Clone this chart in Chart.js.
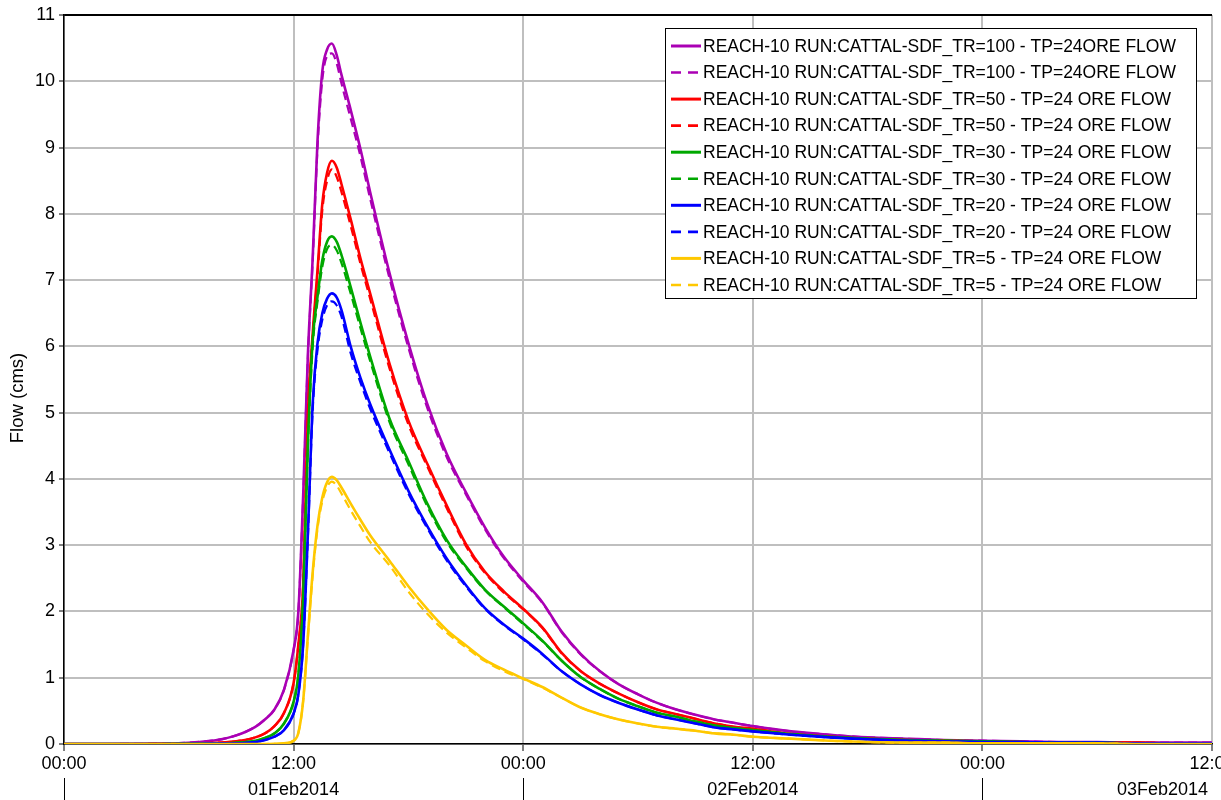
<!DOCTYPE html>
<html>
<head>
<meta charset="utf-8">
<title>REACH-10 Flow</title>
<script src="https://cdn.jsdelivr.net/npm/chart.js@4/dist/chart.umd.min.js"></script>
<style>
  html, body { margin: 0; padding: 0; background: #ffffff; }
  #wrap { width: 1221px; height: 800px; }
</style>
</head>
<body>
<div id="wrap"><canvas id="flowChart" width="1221" height="800"></canvas></div>
<script>
// Hours since 00:00 on 01Feb2014
const hours = [0, 2, 4, 5, 6, 7, 8, 9, 10, 10.5, 11, 11.5,
  12, 12.25, 12.5, 12.75, 13, 13.25, 13.5, 13.75, 14, 14.25, 14.5,
  15, 15.5, 16, 17, 18, 19, 20, 21, 22, 23, 24,
  25, 26, 27, 28, 29, 30, 31, 32, 33, 34, 35, 36,
  38, 40, 42, 44, 46, 48, 50, 52, 54, 56, 58, 60];

// Flow (cms), first run of each return period
const tr100Solid = [0, 0, 0.002, 0.005, 0.012, 0.03, 0.06, 0.13, 0.26, 0.37, 0.52, 0.82,
  1.42, 2.0, 3.75, 5.9, 7.35, 9.1, 10.15, 10.48, 10.57, 10.4, 10.1,
  9.55, 8.97, 8.33, 7.12, 6.05, 5.12, 4.38, 3.8, 3.27, 2.82, 2.47,
  2.14, 1.70, 1.36, 1.10, 0.90, 0.75, 0.62, 0.52, 0.44, 0.37, 0.32, 0.27,
  0.19, 0.14, 0.10, 0.08, 0.06, 0.05, 0.04, 0.03, 0.03, 0.02, 0.02, 0.02];
const tr50Solid = [0, 0, 0, 0.002, 0.005, 0.01, 0.02, 0.04, 0.10, 0.16, 0.27, 0.47,
  0.92, 1.5, 2.4, 5.0, 6.2, 7.15, 8.15, 8.62, 8.8, 8.7, 8.45,
  7.9, 7.32, 6.8, 5.75, 4.88, 4.22, 3.6, 3.02, 2.6, 2.3, 2.04,
  1.76, 1.38, 1.10, 0.91, 0.76, 0.63, 0.52, 0.45, 0.38, 0.31, 0.26, 0.23,
  0.15, 0.11, 0.08, 0.06, 0.05, 0.04, 0.03, 0.02, 0.02, 0.02, 0.01, 0.01];
const tr30Solid = [0, 0, 0, 0, 0.002, 0.005, 0.01, 0.02, 0.05, 0.09, 0.16, 0.31,
  0.64, 1.05, 2.2, 4.55, 6.1, 6.75, 7.3, 7.58, 7.66, 7.58, 7.38,
  6.88, 6.35, 5.85, 4.92, 4.27, 3.62, 3.08, 2.68, 2.33, 2.07, 1.82,
  1.56, 1.26, 1.01, 0.83, 0.68, 0.57, 0.47, 0.41, 0.34, 0.28, 0.24, 0.21,
  0.15, 0.11, 0.08, 0.06, 0.05, 0.04, 0.03, 0.02, 0.02, 0.01, 0.01, 0.01];
const tr20Solid = [0, 0, 0, 0, 0.001, 0.003, 0.005, 0.01, 0.03, 0.06, 0.11, 0.21,
  0.46, 0.75, 1.5, 3.2, 5.15, 6.05, 6.5, 6.72, 6.8, 6.74, 6.55,
  5.98, 5.52, 5.13, 4.45, 3.82, 3.28, 2.8, 2.4, 2.05, 1.8, 1.59,
  1.36, 1.10, 0.90, 0.74, 0.62, 0.52, 0.43, 0.37, 0.31, 0.25, 0.22, 0.19,
  0.14, 0.10, 0.07, 0.05, 0.04, 0.03, 0.03, 0.02, 0.02, 0.01, 0.01, 0.01];
const tr5Solid = [0, 0, 0, 0, 0, 0, 0, 0, 0, 0, 0.003, 0.01,
  0.05, 0.17, 0.65, 1.65, 2.6, 3.3, 3.72, 3.95, 4.03, 3.98, 3.87,
  3.62, 3.38, 3.15, 2.77, 2.38, 2.03, 1.72, 1.49, 1.27, 1.12, 0.99,
  0.86, 0.70, 0.55, 0.45, 0.37, 0.31, 0.26, 0.23, 0.20, 0.16, 0.14, 0.11,
  0.08, 0.05, 0.03, 0.02, 0.02, 0.01, 0.01, 0.01, 0.01, 0, 0, 0];

// Flow (cms), second run of each return period
const tr100Dashed = [0, 0, 0.002, 0.005, 0.012, 0.03, 0.06, 0.13, 0.26, 0.37, 0.52, 0.82,
  1.42, 2.0, 3.72, 5.85, 7.3, 9.0, 10.02, 10.38, 10.42, 10.27, 9.97,
  9.42, 8.86, 8.23, 7.04, 5.98, 5.06, 4.33, 3.77, 3.24, 2.8, 2.45,
  2.13, 1.69, 1.35, 1.10, 0.90, 0.75, 0.62, 0.52, 0.44, 0.37, 0.32, 0.27,
  0.19, 0.14, 0.10, 0.08, 0.06, 0.05, 0.04, 0.03, 0.03, 0.02, 0.02, 0.02];
const tr50Dashed = [0, 0, 0, 0.002, 0.005, 0.01, 0.02, 0.04, 0.10, 0.16, 0.27, 0.47,
  0.92, 1.5, 2.4, 4.95, 6.15, 7.08, 8.05, 8.5, 8.67, 8.56, 8.33,
  7.8, 7.24, 6.72, 5.68, 4.82, 4.18, 3.56, 2.99, 2.58, 2.28, 2.03,
  1.75, 1.37, 1.10, 0.91, 0.76, 0.63, 0.52, 0.45, 0.38, 0.31, 0.26, 0.23,
  0.15, 0.11, 0.08, 0.06, 0.05, 0.04, 0.03, 0.02, 0.02, 0.02, 0.01, 0.01];
const tr30Dashed = [0, 0, 0, 0, 0.002, 0.005, 0.01, 0.02, 0.05, 0.09, 0.16, 0.31,
  0.64, 1.05, 2.2, 4.5, 6.0, 6.68, 7.2, 7.47, 7.53, 7.45, 7.26,
  6.78, 6.27, 5.78, 4.87, 4.22, 3.58, 3.05, 2.66, 2.32, 2.06, 1.81,
  1.55, 1.26, 1.01, 0.83, 0.68, 0.57, 0.47, 0.41, 0.34, 0.28, 0.24, 0.21,
  0.15, 0.11, 0.08, 0.06, 0.05, 0.04, 0.03, 0.02, 0.02, 0.01, 0.01, 0.01];
const tr20Dashed = [0, 0, 0, 0, 0.001, 0.003, 0.005, 0.01, 0.03, 0.06, 0.11, 0.21,
  0.46, 0.75, 1.5, 3.15, 5.05, 5.95, 6.4, 6.62, 6.68, 6.62, 6.45,
  5.88, 5.45, 5.06, 4.4, 3.78, 3.25, 2.77, 2.38, 2.04, 1.79, 1.58,
  1.35, 1.10, 0.90, 0.74, 0.62, 0.52, 0.43, 0.37, 0.31, 0.25, 0.22, 0.19,
  0.14, 0.10, 0.07, 0.05, 0.04, 0.03, 0.03, 0.02, 0.02, 0.01, 0.01, 0.01];
const tr5Dashed = [0, 0, 0, 0, 0, 0, 0, 0, 0, 0, 0.003, 0.01,
  0.05, 0.17, 0.65, 1.62, 2.55, 3.25, 3.66, 3.88, 3.96, 3.9, 3.78,
  3.52, 3.28, 3.05, 2.7, 2.3, 1.96, 1.68, 1.46, 1.25, 1.1, 0.98,
  0.85, 0.70, 0.55, 0.45, 0.37, 0.31, 0.26, 0.23, 0.20, 0.16, 0.14, 0.11,
  0.08, 0.05, 0.03, 0.02, 0.02, 0.01, 0.01, 0.01, 0.01, 0, 0, 0];

const seriesNames = [
  'REACH-10 RUN:CATTAL-SDF_TR=100 - TP=24ORE FLOW',
  'REACH-10 RUN:CATTAL-SDF_TR=100 - TP=24ORE FLOW',
  'REACH-10 RUN:CATTAL-SDF_TR=50 - TP=24 ORE FLOW',
  'REACH-10 RUN:CATTAL-SDF_TR=50 - TP=24 ORE FLOW',
  'REACH-10 RUN:CATTAL-SDF_TR=30 - TP=24 ORE FLOW',
  'REACH-10 RUN:CATTAL-SDF_TR=30 - TP=24 ORE FLOW',
  'REACH-10 RUN:CATTAL-SDF_TR=20 - TP=24 ORE FLOW',
  'REACH-10 RUN:CATTAL-SDF_TR=20 - TP=24 ORE FLOW',
  'REACH-10 RUN:CATTAL-SDF_TR=5 - TP=24 ORE FLOW',
  'REACH-10 RUN:CATTAL-SDF_TR=5 - TP=24 ORE FLOW'
];
const seriesValues = [tr100Solid, tr100Dashed, tr50Solid, tr50Dashed, tr30Solid, tr30Dashed,
  tr20Solid, tr20Dashed, tr5Solid, tr5Dashed];

// Axis text
const timeTickLabels = ['00:00', '12:00', '00:00', '12:00', '00:00', '12:00'];
const dateLabels = ['01Feb2014', '02Feb2014', '03Feb2014'];
const dateCenters = [12, 36, 60];
const dayBoundaries = [0, 24, 48];
const yAxisTitle = 'Flow (cms)';

const FONT = "'Liberation Sans', Arial, sans-serif";
const palette = ['#AA00B4', '#AA00B4', '#FF0000', '#FF0000', '#00A800', '#00A800',
  '#0000FF', '#0000FF', '#FFC800', '#FFC800'];

const datasets = seriesValues.map((vals, i) => ({
  label: seriesNames[i],
  data: hours.map((h, k) => ({ x: h, y: vals[k] })),
  borderColor: palette[i],
  backgroundColor: palette[i],
  borderWidth: i % 2 === 0 ? 2.6 : 2.2,
  borderDash: i % 2 === 0 ? [] : [9, 5],
  pointRadius: 0,
  fill: false,
  cubicInterpolationMode: 'monotone',
  order: seriesValues.length - i
}));

// Boxed key in the upper right of the plot
const keyPlugin = {
  id: 'seriesKey',
  afterDatasetsDraw(chart) {
    const ctx = chart.ctx;
    const left = 665, top = 28, width = 531, height = 270, rowGap = 26.55;
    ctx.save();
    ctx.fillStyle = '#ffffff';
    ctx.fillRect(left, top, width, height);
    ctx.strokeStyle = '#000000';
    ctx.lineWidth = 1;
    ctx.setLineDash([]);
    ctx.strokeRect(left + 0.5, top + 0.5, width, height);
    ctx.font = '17.5px ' + FONT;
    ctx.textBaseline = 'middle';
    ctx.textAlign = 'left';
    chart.data.datasets.forEach((ds, i) => {
      const yy = top + 18 + i * rowGap;
      ctx.strokeStyle = ds.borderColor;
      ctx.lineWidth = ds.borderWidth + 0.4;
      ctx.setLineDash(ds.borderDash.length ? [10, 7] : []);
      ctx.beginPath();
      ctx.moveTo(left + 6, yy);
      ctx.lineTo(left + 36, yy);
      ctx.stroke();
      ctx.setLineDash([]);
      ctx.fillStyle = '#000000';
      ctx.fillText(ds.label, left + 38, yy + 1);
    });
    ctx.restore();
  }
};

// Date row under the time ticks, plus axis title and top frame
const framePlugin = {
  id: 'frameAndDates',
  afterDraw(chart) {
    const ctx = chart.ctx;
    const xs = chart.scales.x;
    const area = chart.chartArea;
    ctx.save();
    // top frame line
    ctx.strokeStyle = '#000000';
    ctx.lineWidth = 1.5;
    ctx.beginPath();
    ctx.moveTo(area.left, area.top);
    ctx.lineTo(area.right, area.top);
    ctx.stroke();
    // day separators
    ctx.lineWidth = 1;
    dayBoundaries.forEach(h => {
      const px = Math.round(xs.getPixelForValue(h)) + 0.5;
      ctx.beginPath();
      ctx.moveTo(px, 778);
      ctx.lineTo(px, 800);
      ctx.stroke();
    });
    // day labels
    ctx.fillStyle = '#000000';
    ctx.font = '18px ' + FONT;
    ctx.textBaseline = 'middle';
    ctx.textAlign = 'center';
    dateLabels.forEach((txt, i) => {
      const w = ctx.measureText(txt).width;
      let cx = xs.getPixelForValue(dateCenters[i]);
      const maxRight = area.right - 4;
      if (cx + w / 2 > maxRight) cx = maxRight - w / 2;
      ctx.fillText(txt, cx, 790);
    });
    // y axis title
    ctx.font = '18.5px ' + FONT;
    ctx.translate(18, 398);
    ctx.rotate(-Math.PI / 2);
    ctx.fillText(yAxisTitle, 0, 0);
    ctx.restore();
  }
};

new Chart(document.getElementById('flowChart'), {
  type: 'line',
  data: { datasets },
  options: {
    responsive: false,
    animation: false,
    events: [],
    layout: { padding: { top: 15, right: 9, bottom: 0, left: 0 } },
    plugins: { legend: { display: false }, tooltip: { enabled: false }, title: { display: false } },
    scales: {
      x: {
        type: 'linear',
        min: 0,
        max: 60,
        ticks: {
          stepSize: 12,
          autoSkip: false,
          maxRotation: 0,
          color: '#000000',
          padding: 2,
          font: { family: FONT, size: 18 },
          callback: v => timeTickLabels[Math.round(v / 12)]
        },
        grid: { color: '#bfbfbf', lineWidth: 2, tickColor: '#000000', tickLength: 7, tickWidth: 1 },
        border: { color: '#000000', width: 1.5 },
        afterFit: s => { s.height = 56; s.paddingLeft = 0; s.paddingRight = 0; }
      },
      y: {
        min: 0,
        max: 11,
        ticks: {
          stepSize: 1,
          color: '#000000',
          padding: 4,
          font: { family: FONT, size: 18 }
        },
        grid: {
          color: c => (c.tick && c.tick.value === 11 ? '#000000' : '#bfbfbf'),
          lineWidth: 2,
          tickColor: '#000000',
          tickLength: 5,
          tickWidth: 1
        },
        border: { color: '#000000', width: 1.5 },
        afterFit: s => { s.width = 64; s.paddingTop = 0; s.paddingBottom = 0; }
      }
    }
  },
  plugins: [keyPlugin, framePlugin]
});
</script>
</body>
</html>
